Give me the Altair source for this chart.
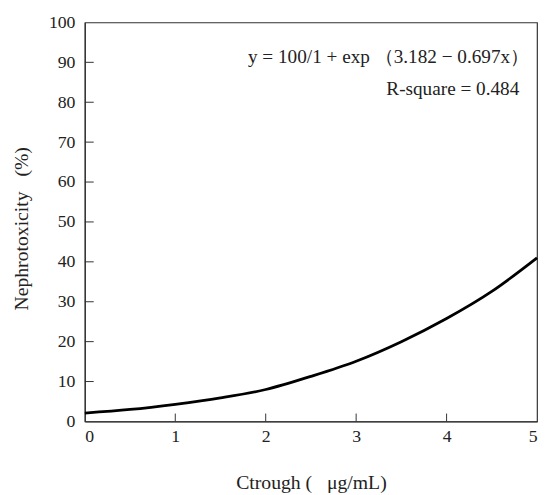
import altair as alt
import pandas as pd

# curve
curve_x = [0, 0.5, 1, 1.5, 2, 2.5, 3, 3.5, 4, 4.5, 5]
curve_y = [2.1, 3.0, 4.3, 5.9, 8.0, 11.3, 15.1, 20.0, 25.8, 32.6, 41.0]

x_ticks = [0, 1, 2, 3, 4, 5]
y_ticks = [0, 10, 20, 30, 40, 50, 60, 70, 80, 90, 100]

FONT = "Liberation Serif"
W, H = 459, 405

df = pd.DataFrame({"x": curve_x, "y": curve_y})
xs = alt.Scale(domain=[0, 5], nice=False, zero=False)
ys = alt.Scale(domain=[0, 100], nice=False)

base = alt.Chart(df)

line = base.mark_line(color="black", strokeWidth=2.8, interpolate="monotone").encode(
    x=alt.X("x:Q", scale=xs,
            axis=alt.Axis(title="Ctrough (\u2002 μg/mL)", values=x_ticks, ticks=False, format="d",
                          labelPadding=6, titlePadding=28, grid=False)),
    y=alt.Y("y:Q", scale=ys,
            axis=alt.Axis(title="Nephrotoxicity\u2002 (%)", values=y_ticks, ticks=False, format="d",
                          labelPadding=10, titlePadding=17, grid=False, titleY=209)),
)

xt = pd.DataFrame({"x": x_ticks[1:-1]})
xtick = alt.Chart(xt).mark_rule(color="#333", strokeWidth=1).encode(
    x=alt.X("x:Q", scale=xs), y=alt.value(H), y2=alt.value(H - 8)
)
yt = pd.DataFrame({"y": y_ticks[1:-1]})
ytick = alt.Chart(yt).mark_rule(color="#333", strokeWidth=1).encode(
    y=alt.Y("y:Q", scale=ys), x=alt.value(0), x2=alt.value(9)
)

eq = alt.Chart(pd.DataFrame({"t": ["y = 100/1 + exp （3.182 − 0.697x）"]})).mark_text(
    font=FONT, fontSize=19.5, align="right", baseline="middle", color="#222"
).encode(text="t:N", x=alt.value(451), y=alt.value(35))

r2 = alt.Chart(pd.DataFrame({"t": ["R-square = 0.484"]})).mark_text(
    font=FONT, fontSize=19.5, align="right", baseline="middle", color="#222"
).encode(text="t:N", x=alt.value(441), y=alt.value(68))

chart = alt.layer(line, xtick, ytick, eq, r2).properties(
    width=W, height=H,
    autosize=alt.AutoSizeParams(type="none"),
    padding={"left": 78, "top": 11, "right": 2, "bottom": 70},
).configure_view(stroke="#333", strokeWidth=1.2).configure_axis(
    labelFont=FONT, titleFont=FONT, labelFontSize=18, titleFontSize=20,
    labelColor="#222", titleColor="#222", titleFontWeight="normal",
    domainColor="#333", domainWidth=1.2,
)

chart.save("out.html", embed_options={"renderer": "svg", "actions": False})
